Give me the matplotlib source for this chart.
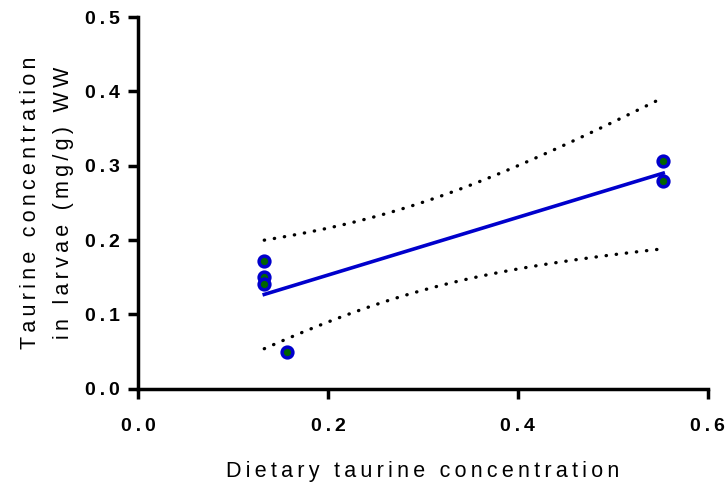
import numpy as np
import matplotlib
matplotlib.use("Agg")
import matplotlib.pyplot as plt

# Data
diet_x = [0.133, 0.133, 0.133, 0.157, 0.553, 0.553]
larvae_y = [0.172, 0.150, 0.141, 0.049, 0.306, 0.279]
x_ticks = [0.0, 0.2, 0.4, 0.6]
y_ticks = [0.0, 0.1, 0.2, 0.3, 0.4, 0.5]
x_title = "Dietary taurine concentration"
y_title = ["Taurine concentration", "in larvae (mg/g) WW"]
t_crit = 2.776  # t(0.975, df=4)

TS = "\u2009"
def spaced(s):
    return TS.join(s)

plt.rcParams['font.family'] = ['Liberation Sans', 'DejaVu Sans']

fig = plt.figure(figsize=(7.26, 4.86), dpi=100)
ax = fig.add_axes([0.190, 0.200, 0.785, 0.765])

x = np.array(diet_x)
y = np.array(larvae_y)
n = len(x)
xm, ym = x.mean(), y.mean()
sxx = ((x - xm) ** 2).sum()
slope = ((x - xm) * (y - ym)).sum() / sxx
icpt = ym - slope * xm
res = y - (icpt + slope * x)
s = np.sqrt((res ** 2).sum() / (n - 2))
xx = np.linspace(x.min(), x.max(), 100)
yy = icpt + slope * xx
half = t_crit * s * np.sqrt(1.0 / n + (xx - xm) ** 2 / sxx)

dot = (0, (0.1, 2.95))
ax.plot(xx, yy + half, color='black', lw=2.4, ls=dot, dash_capstyle='round')
ax.plot(xx, yy - half, color='black', lw=2.4, ls=dot, dash_capstyle='round')
ax.plot(xx, yy, color='#0000CC', lw=2.6)
ax.scatter(x, y, s=60, facecolor='#006400', edgecolor='#0000CC', linewidths=2.5, zorder=5)

ax.set_xlim(0, 0.6)
ax.set_ylim(0, 0.5)
ax.set_xticks(x_ticks)
ax.set_yticks(y_ticks)
ax.set_xticklabels([spaced(f"{v:.1f}") for v in x_ticks], fontweight='bold', fontsize=14)
ax.set_yticklabels([spaced(f"{v:.1f}") for v in y_ticks], fontweight='bold', fontsize=14)
for sp in ['top', 'right']:
    ax.spines[sp].set_visible(False)
for sp in ['left', 'bottom']:
    ax.spines[sp].set_linewidth(2.5)
ax.tick_params(axis='both', width=2.5, length=7, direction='out', color='black')
ax.tick_params(axis='x', pad=14)
ax.tick_params(axis='y', pad=6)

ax.set_xlabel(spaced(x_title), fontsize=15.5, labelpad=19)
ax.set_ylabel("\n".join(spaced(t) for t in y_title), fontsize=15.5, labelpad=8,
              linespacing=1.75)
ax.patch.set_visible(False)
for l in ax.lines + ax.collections:
    l.set_clip_on(False)

fig.savefig("out.png", dpi=100)
